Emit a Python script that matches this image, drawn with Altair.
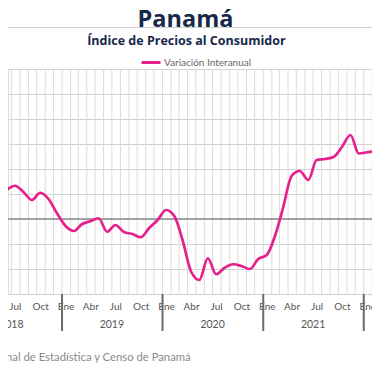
import altair as alt
import pandas as pd

# ---- data ----
inicio = "2018-05-01"
variacion = [
    0.80, 1.16, 1.33, 1.08, 0.76, 1.05, 0.79, 0.23,                 # 2018 May-Dec
    -0.28, -0.48, -0.21, -0.09, 0.03, -0.51, -0.24, -0.52,          # 2019 Jan-Aug
    -0.60, -0.73, -0.36, -0.05,                                     # 2019 Sep-Dec
    0.36, 0.10, -0.84, -2.10, -2.44, -1.57, -2.21, -1.95,           # 2020 Jan-Aug
    -1.81, -1.88, -2.00, -1.60,                                     # 2020 Sep-Dec
    -1.44, -0.64, 0.44, 1.72, 1.92, 1.56, 2.36, 2.40,               # 2021 Jan-Aug
    2.48, 2.88, 3.36, 2.62,                                         # 2021 Sep-Dec
    2.67, 2.72, 3.16,                                               # 2022 Jan-Mar
]
serie = "Variación Interanual"
anios = [2018, 2019, 2020, 2021, 2022]
meses_es = ["Ene", "Abr", "Jul", "Oct"]
titulo = "Panamá"
subtitulo = "Índice de Precios al Consumidor"
fuente = "Fuente: Instituto Nacional de Estadística y Censo de Panamá"

fechas = pd.date_range(inicio, periods=len(variacion), freq="MS").strftime("%Y/%m/%d")
df = pd.DataFrame({"fecha": fechas, "valor": variacion, "serie": serie})
df_meses = pd.DataFrame({"fecha": pd.date_range("2018/05/01", "2022/04/01", freq="MS").strftime("%Y/%m/%d")})
df_jan = pd.DataFrame({"fecha": [f"{a}/01/01" for a in anios]})
df_mid = pd.DataFrame({"fecha": [f"{a}/07/01" for a in anios[:-1]], "anio": [str(a) for a in anios[:-1]]})
df_zero = pd.DataFrame({"y": [0]})
one = alt.Data(values=[{"t": fuente, "a": titulo, "b": subtitulo}])

FONT = "Lato"
TFONT = "Open Sans"
PINK = "#e6208c"
NAVY = "#17284a"
GOFF = -3.5

quarter_values = [alt.DateTime(year=y, month=m, date=1) for y in range(2018, 2023) for m in (1, 4, 7, 10)]

xscale = alt.Scale(domain=[alt.DateTime(year=2018, month=6, date=6),
                           alt.DateTime(year=2022, month=1, date=18, hours=7)])
yscale = alt.Scale(domain=[-3, 6], nice=False, zero=False)

xaxis = alt.Axis(
    values=quarter_values,
    labelExpr="month(datum.value) % 3 == 0 ? " + str(meses_es) + "[month(datum.value) / 3] : ''",
    grid=False, ticks=False, tickSize=0, domain=False,
    labelFont=FONT, labelFontSize=10, labelColor="#555555",
    labelPadding=7, labelOffset=0,
    labelOverlap=False, labelFlush=False, title=None,
)
yaxis = alt.Axis(values=list(range(-3, 7)), grid=True, gridColor="#d2d2d2",
                 labels=False, ticks=False, domain=False, title=None)

X = alt.X("fecha:T", scale=xscale, axis=xaxis)

vgrid = alt.Chart(df_meses).mark_rule(color="#dcdcdc", strokeWidth=1, xOffset=GOFF, clip=True).encode(
    x=X,
)

hgrid = alt.Chart(df).mark_line(opacity=0).encode(
    x=X,
    y=alt.Y("valor:Q", scale=yscale, axis=yaxis),
)

zero = alt.Chart(df_zero).mark_rule(color="#8a8a8a", strokeWidth=1.5).encode(
    y=alt.Y("y:Q", scale=yscale, axis=yaxis)
)

line = alt.Chart(df).mark_line(interpolate="monotone", strokeWidth=2.7, clip=True).encode(
    x=X,
    y=alt.Y("valor:Q", scale=yscale, axis=yaxis),
    color=alt.Color("serie:N", scale=alt.Scale(range=[PINK]),
                    legend=alt.Legend(orient="none", legendX=132, legendY=-17.5,
                                      title=None, symbolType="stroke", symbolSize=361,
                                      symbolStrokeWidth=3, labelFont=FONT, labelFontSize=10,
                                      labelColor="#666666", labelOffset=2, padding=0)),
)

year_rules = alt.Chart(df_jan).mark_rule(color="#6a6a6a", strokeWidth=2, xOffset=GOFF).encode(
    x=X,
    y=alt.value(225), y2=alt.value(262),
)

year_text = alt.Chart(df_mid).mark_text(font=FONT, fontSize=10.5, color="#555555",
                                        baseline="middle", xOffset=GOFF).encode(
    x=X,
    y=alt.value(256),
    text="anio:N",
)

sep = alt.Chart(one).mark_rule(color="#d0d0d0", strokeWidth=1).encode(
    x=alt.value(-10), x2=alt.value(390), y=alt.value(-41.5)
)

title_t = alt.Chart(one).mark_text(font=TFONT, fontSize=23.5, fontWeight="bold", color=NAVY,
                                   align="center", baseline="alphabetic").encode(
    x=alt.value(177.5), y=alt.value(-42.5), text="a:N"
)
subtitle_t = alt.Chart(one).mark_text(font=TFONT, fontSize=12.5, fontWeight="bold", color=NAVY,
                                      align="center", baseline="alphabetic").encode(
    x=alt.value(178.4), y=alt.value(-24), text="b:N"
)

footer = alt.Chart(one).mark_text(font=FONT, fontSize=11.3, color="#8a8a8a",
                                  align="right", baseline="alphabetic").encode(
    x=alt.value(182.7), y=alt.value(292), text="t:N"
)

chart = alt.layer(vgrid, hgrid, zero, line, year_rules, year_text,
                  sep, title_t, subtitle_t, footer).properties(
    width=364, height=225,
    autosize=alt.AutoSizeParams(type="none"),
    padding={"left": 0, "top": 61, "right": 0, "bottom": 70},
).configure_view(strokeWidth=0).configure(font=FONT).configure_axisX(
    labelOverlap=False, labelFlush=False
)

chart.save("out.html", embed_options={"renderer": "svg", "actions": False})
